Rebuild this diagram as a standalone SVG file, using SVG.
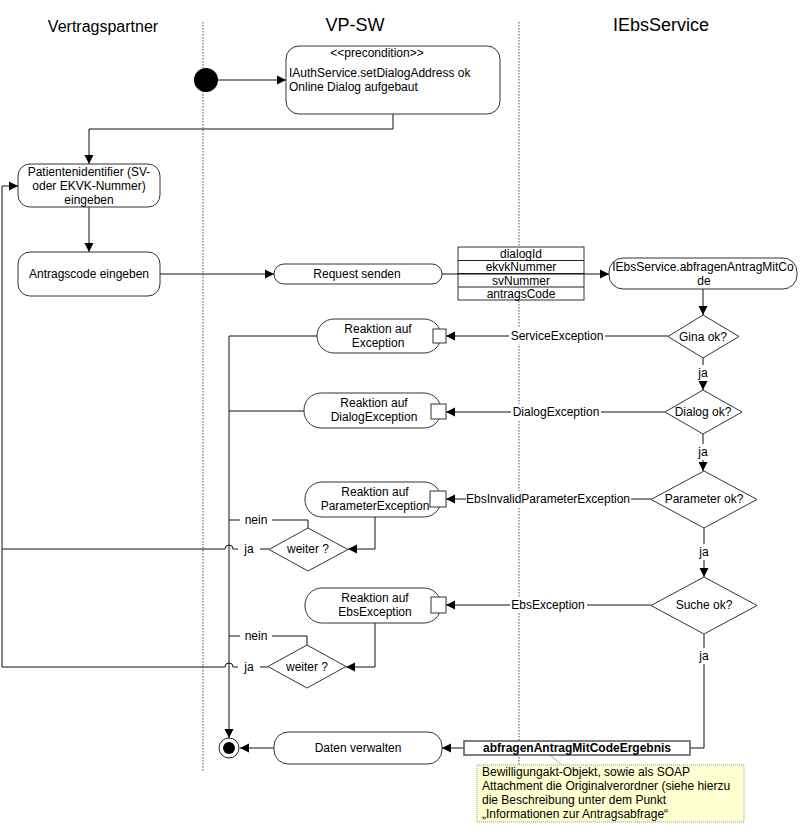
<svg xmlns="http://www.w3.org/2000/svg" width="800" height="839" viewBox="0 0 800 839">
<style>
text{font-family:"Liberation Sans",Arial,sans-serif;font-size:12px;fill:#000}
.c{text-anchor:middle}
.title{font-size:18px}
.lane{stroke:#888;stroke-width:1.5;stroke-dasharray:1.5 1.5;fill:none}
.node{fill:#fff;stroke:#333;stroke-width:1}
.edge{fill:none;stroke:#111;stroke-width:1}
.bg{fill:#fff;stroke:none}
</style>
<defs>
<marker id="arr" markerUnits="userSpaceOnUse" markerWidth="10" markerHeight="10" refX="9" refY="5" orient="auto">
<path d="M0,0.5 L9,5 L0,9.5 z" fill="#000"/>
</marker>
</defs>
<rect width="800" height="839" fill="#fff"/>
<g id="lanes">
<line class="lane" x1="203" y1="22" x2="203" y2="772"/>
<line class="lane" x1="519" y1="22" x2="519" y2="772"/>
<text x="103" y="32" class="c" style="font-size:16px">Vertragspartner</text>
<text x="355" y="31" class="c title">VP-SW</text>
<text x="661" y="31" class="c title">IEbsService</text>
</g>
<g id="connectors">
<path class="edge" d="M218,80 H286" marker-end="url(#arr)"/>
<path class="edge" d="M393,114 V129 H89 V164" marker-end="url(#arr)"/>
<path class="edge" d="M89,207 V252" marker-end="url(#arr)"/>
<path class="edge" d="M160,274 H274" marker-end="url(#arr)"/>
<path class="edge" d="M703,289 V315" marker-end="url(#arr)"/>
<path class="edge" d="M703,358 V390" marker-end="url(#arr)"/>
<path class="edge" d="M703,434 V471" marker-end="url(#arr)"/>
<path class="edge" d="M704,528 V577" marker-end="url(#arr)"/>
<path class="edge" d="M704,634 V748 H690"/>
<path class="edge" d="M464,748 H442" marker-end="url(#arr)"/>
<path class="edge" d="M274,748 H240" marker-end="url(#arr)"/>
<path class="edge" d="M668,336 H446" marker-end="url(#arr)"/>
<path class="edge" d="M665,412 H446" marker-end="url(#arr)"/>
<path class="edge" d="M651,499 H446" marker-end="url(#arr)"/>
<path class="edge" d="M651,605 H446" marker-end="url(#arr)"/>
<path class="edge" d="M317,336 H229 V738" marker-end="url(#arr)"/>
<path class="edge" d="M304,411 H229"/>
<path class="edge" d="M375,517 V549 H348" marker-end="url(#arr)"/>
<path class="edge" d="M308,528 V520 H229"/>
<path class="edge" d="M269,549 H233 A4,4 0 0 0 225,549 H2 V186 H18" marker-end="url(#arr)"/>
<path class="edge" d="M375,623 V667 H346" marker-end="url(#arr)"/>
<path class="edge" d="M307,645 V636 H229"/>
<path class="edge" d="M268,667 H233 A4,4 0 0 0 225,667 H2 V549"/>
<line x1="550" y1="755" x2="562" y2="765" stroke="#aaa" stroke-width="1"/>
<rect class="bg" x="509" y="328" width="96" height="16"/>
<text x="557" y="340" class="c">ServiceException</text>
<rect class="bg" x="511" y="404" width="90" height="16"/>
<text x="556" y="416" class="c">DialogException</text>
<rect class="bg" x="466" y="491" width="165" height="16"/>
<text x="548" y="503" class="c">EbsInvalidParameterException</text>
<rect class="bg" x="510" y="597" width="77" height="16"/>
<text x="548" y="609" class="c">EbsException</text>
<rect class="bg" x="696" y="365" width="15" height="16"/>
<text x="703" y="377" class="c">ja</text>
<rect class="bg" x="696" y="444" width="15" height="16"/>
<text x="703" y="456" class="c">ja</text>
<rect class="bg" x="697" y="544" width="15" height="16"/>
<text x="704" y="556" class="c">ja</text>
<rect class="bg" x="697" y="648" width="15" height="16"/>
<text x="704" y="660" class="c">ja</text>
<rect class="bg" x="240" y="512" width="32" height="16"/>
<text x="256" y="524" class="c">nein</text>
<rect class="bg" x="238" y="541" width="22" height="16"/>
<text x="249" y="553" class="c">ja</text>
<rect class="bg" x="240" y="628" width="32" height="16"/>
<text x="256" y="640" class="c">nein</text>
<rect class="bg" x="238" y="659" width="22" height="16"/>
<text x="249" y="671" class="c">ja</text>
</g>
<g id="start">
<circle cx="206" cy="80" r="12" fill="#000"/>
</g>
<g id="precondition">
<rect class="node" x="286" y="46" width="214" height="68" rx="13"/>
<text x="377" y="57" class="c">&lt;&lt;precondition&gt;&gt;</text>
<text x="289" y="77">IAuthService.setDialogAddress ok</text>
<text x="289" y="91">Online Dialog aufgebaut</text>
</g>
<g id="patient">
<rect class="node" x="18" y="164" width="142" height="43" rx="12"/>
<text x="89" y="176" class="c">Patientenidentifier (SV-</text>
<text x="89" y="190" class="c">oder EKVK-Nummer)</text>
<text x="89" y="204" class="c">eingeben</text>
</g>
<g id="antragscode">
<rect class="node" x="18" y="252" width="142" height="44" rx="12"/>
<text x="89" y="278" class="c">Antragscode eingeben</text>
</g>
<g id="request">
<rect class="node" x="274" y="264" width="168" height="20" rx="10"/>
<text x="357" y="278" class="c">Request senden</text>
</g>
<g id="params">
<rect class="node" x="458" y="247" width="126" height="53" stroke="#222"/>
<line x1="458" y1="260.5" x2="584" y2="260.5" stroke="#222"/>
<line x1="458" y1="273.5" x2="584" y2="273.5" stroke="#222"/>
<line x1="458" y1="287" x2="584" y2="287" stroke="#222"/>
<text x="521" y="257.5" class="c">dialogId</text>
<text x="521" y="271" class="c">ekvkNummer</text>
<text x="521" y="284.5" class="c">svNummer</text>
<text x="521" y="298" class="c">antragsCode</text>
<line class="edge" x1="442" y1="274" x2="609" y2="274" marker-end="url(#arr)"/>
</g>
<g id="abfragen">
<rect class="node" x="609" y="258" width="188" height="31" rx="14"/>
<text x="703" y="271" class="c">IEbsService.abfragenAntragMitCo</text>
<text x="704" y="285" class="c">de</text>
</g>
<g id="gina">
<polygon class="node" points="703,315 739,336.5 703,358 668,336.5"/>
<text x="703" y="341" class="c">Gina ok?</text>
</g>
<g id="dialog">
<polygon class="node" points="703,390 742,412 703,434 665,412"/>
<text x="703" y="416" class="c">Dialog ok?</text>
</g>
<g id="parameter">
<polygon class="node" points="704,471 757,499.5 704,528 651,499.5"/>
<text x="704" y="503" class="c">Parameter ok?</text>
</g>
<g id="suche">
<polygon class="node" points="704,577 757,605.5 704,634 651,605.5"/>
<text x="704" y="609" class="c">Suche ok?</text>
</g>
<g id="reaktion-exception">
<rect class="node" x="317" y="319" width="124" height="34" rx="17"/>
<text x="378" y="333" class="c">Reaktion auf</text>
<text x="378" y="347" class="c">Exception</text>
<rect class="node" x="433" y="329" width="13" height="14"/>
</g>
<g id="reaktion-dialog">
<rect class="node" x="304" y="393" width="137" height="35" rx="17"/>
<text x="374" y="407" class="c">Reaktion auf</text>
<text x="374" y="421" class="c">DialogException</text>
<rect class="node" x="431" y="404" width="15" height="15"/>
</g>
<g id="reaktion-parameter">
<rect class="node" x="305" y="482" width="136" height="35" rx="17"/>
<text x="375" y="496" class="c">Reaktion auf</text>
<text x="375" y="510" class="c">ParameterException</text>
<rect class="node" x="430" y="491" width="16" height="16"/>
</g>
<g id="weiter1">
<polygon class="node" points="308,528 348,549.5 308,571 269,549.5"/>
<text x="308" y="553" class="c">weiter ?</text>
</g>
<g id="reaktion-ebs">
<rect class="node" x="305" y="588" width="136" height="35" rx="17"/>
<text x="375" y="602" class="c">Reaktion auf</text>
<text x="375" y="616" class="c">EbsException</text>
<rect class="node" x="431" y="597" width="15" height="16"/>
</g>
<g id="weiter2">
<polygon class="node" points="307,645 346,666.5 307,688 268,666.5"/>
<text x="307" y="671" class="c">weiter ?</text>
</g>
<g id="ergebnis">
<rect x="464" y="741" width="226" height="14" fill="#fff" stroke="#555" stroke-width="1.5"/>
<text x="577" y="752" class="c" style="font-weight:bold">abfragenAntragMitCodeErgebnis</text>
</g>
<g id="daten">
<rect class="node" x="274" y="732" width="168" height="32" rx="14"/>
<text x="358" y="752" class="c">Daten verwalten</text>
</g>
<g id="end">
<circle cx="229" cy="748" r="10" fill="#fff" stroke="#222"/>
<circle cx="229" cy="748" r="6" fill="#000"/>
</g>
<g id="note">
<rect x="477" y="765" width="267" height="57" fill="#ffffd0" stroke="#999" stroke-dasharray="1 1"/>
<text x="482" y="776">Bewilligungakt-Objekt, sowie als SOAP</text>
<text x="482" y="790">Attachment die Originalverordner (siehe hierzu</text>
<text x="482" y="804">die Beschreibung unter dem Punkt</text>
<text x="482" y="818">„Informationen zur Antragsabfrage“</text>
</g>
</svg>
